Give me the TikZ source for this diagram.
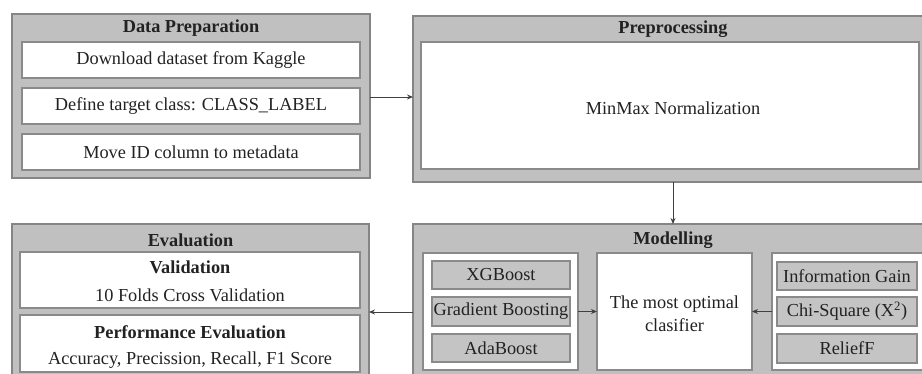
\documentclass[tikz,border=0pt]{standalone}
\usepackage{fontspec}
\setmainfont{Liberation Serif}
\usetikzlibrary{arrows.meta}
\definecolor{outerfill}{HTML}{C0C0C0}
\definecolor{outerline}{HTML}{858585}
\definecolor{innerline}{HTML}{8A8A8A}
\definecolor{grayfill}{HTML}{C4C4C4}
\definecolor{txtcol}{HTML}{222222}
\newcommand\mybx[6]{\node[#2, anchor=north west, minimum width={#5-#3}, minimum height={#6-#4}] (#1) at (#3,#4) {};}
\begin{document}
\begin{tikzpicture}[x=1pt,y=-1pt,
  outerbox/.style={draw=outerline, fill=outerfill, line width=1.3pt, inner sep=0, outer sep=0},
  innerbox/.style={draw=innerline, fill=white, line width=1.1pt, inner sep=0, outer sep=0},
  graybox/.style={draw=innerline, fill=grayfill, line width=1.1pt, inner sep=0, outer sep=0},
  txt/.style={font=\fontsize{18.3}{23}\selectfont, text=txtcol, inner sep=0},
  ttl/.style={font=\fontsize{18.3}{23}\selectfont\bfseries, text=txtcol, inner sep=0},
  arr/.style={draw=black!75, line width=0.9pt, -{Stealth[length=6pt,width=5pt]}}
]
\useasboundingbox (0,0) rectangle (922,374);
\clip (0,0) rectangle (922,374);
% Data Preparation
\mybx{dp}{outerbox}{12}{14}{370}{178}
\mybx{dp1}{innerbox}{22}{42}{360}{78}
\mybx{dp2}{innerbox}{22}{88}{360}{124}
\mybx{dp3}{innerbox}{22}{134}{360}{170}
\node[ttl] (dpt) at (191,28) {Data Preparation};
\node[txt] at (dp1.center) {Download dataset from Kaggle};
\node[txt] at (dp2.center) {Define target class: CLASS\_LABEL};
\node[txt] at (dp3.center) {Move ID column to metadata};
% Preprocessing
\mybx{pp}{outerbox}{413}{16}{933}{182}
\mybx{pp1}{innerbox}{421}{42}{919}{169}
\node[ttl] (ppt) at (673,29) {Preprocessing};
\node[txt] (ppx) at (673,108) {MinMax Normalization};
% Evaluation
\mybx{ev}{outerbox}{12}{224}{369}{392}
\mybx{ev1}{innerbox}{20}{252}{360}{308}
\mybx{ev2}{innerbox}{20}{315}{360}{372}
\node[ttl] (evt) at (190.5,240) {Evaluation};
\node[ttl] (ev1a) at (190,267) {Validation};
\node[txt] (ev1b) at (190,295) {10 Folds Cross Validation};
\node[ttl] (ev2a) at (190,332) {Performance Evaluation};
\node[txt] (ev2b) at (190,360) {Accuracy, Precission, Recall, F1 Score};
% Modelling
\mybx{mo}{outerbox}{413}{224}{933}{392}
\node[ttl] (mot) at (673,240) {Modelling};
\mybx{lp}{innerbox}{423}{253}{578}{370}
\mybx{cb}{innerbox}{597}{253}{752}{370}
\mybx{rp}{innerbox}{772}{253}{935}{370}
\mybx{g1}{graybox}{432}{261}{570}{289}
\mybx{g2}{graybox}{432}{297}{570}{326}
\mybx{g3}{graybox}{432}{334}{570}{362}
\mybx{f1}{graybox}{777}{262}{917}{290}
\mybx{f2}{graybox}{777}{297}{917}{326}
\mybx{f3}{graybox}{777}{334}{917}{363}
\node[txt] at (g1.center) {XGBoost};
\node[txt] at (g2.center) {Gradient Boosting};
\node[txt] at (g3.center) {AdaBoost};
\node[txt] at (f1.center) {Information Gain};
\node[txt] at (f2.center) {Chi-Square (X\textsuperscript{2})};
\node[txt] at (f3.center) {ReliefF};
\node[txt, align=center] (cbt) at (674.5,314) {The most optimal\\clasifier};
% Connectors
\draw[arr] ([yshift=-1pt]dp.east) -- ([yshift=-1pt]dp.east -| pp.west);
\draw[arr] (pp.south -| ppt) -- (mo.north -| mot);
\draw[arr] ([yshift=-4pt]mo.west) -- ([yshift=-4pt]mo.west -| ev.east);
\draw[arr] (lp.east) -- (cb.west);
\draw[arr] (rp.west) -- (cb.east);
\end{tikzpicture}
\end{document}
